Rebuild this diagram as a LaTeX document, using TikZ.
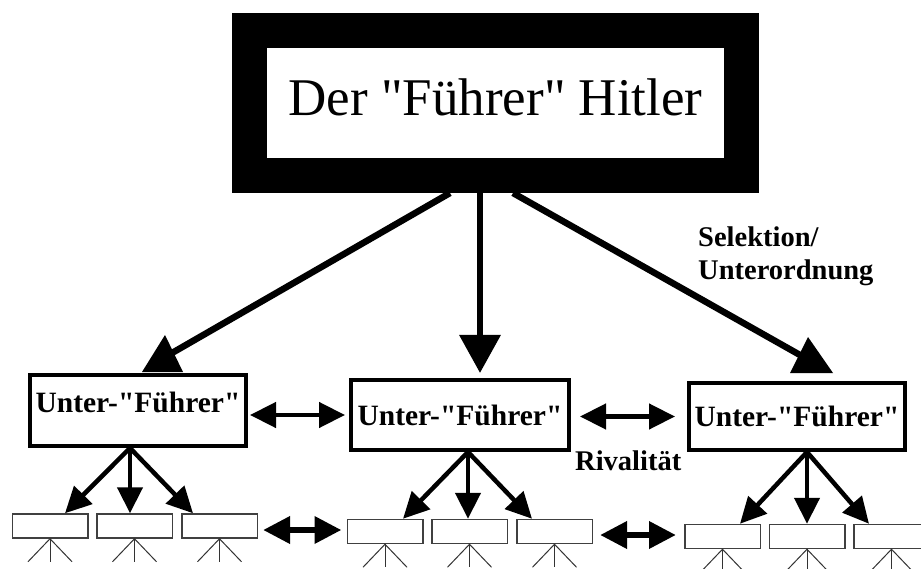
\documentclass[tikz,border=0pt]{standalone}
\usepackage{fontspec}
\setmainfont{Liberation Serif}[Ligatures=TeXOff]
\usetikzlibrary{arrows.meta,calc}
\begin{document}
\begin{tikzpicture}[x=1pt,y=-1pt,
  topbox/.style={draw, line width=35pt, minimum width=492pt, minimum height=145pt, inner sep=0pt, font=\fontsize{53}{60}\selectfont, text depth=12pt},
  subbox/.style={draw, line width=4pt, inner sep=0pt, font=\bfseries\fontsize{29.5}{32}\selectfont},
  leaf/.style={draw=black!75, line width=1.5pt, minimum width=75.5pt, minimum height=24pt, inner sep=0pt},
  lbl/.style={inner sep=0pt, font=\bfseries\fontsize{28.5}{32}\selectfont},
  mainline/.style={line width=6.5pt},
  head/.style={fill=black},
  downarrow/.style={line width=6.5pt, -{Triangle[length=38pt,width=40pt]}},
  subarrow/.style={line width=4.5pt, -{Triangle[length=26pt,width=25pt]}},
  rivarrow/.style={line width=4.5pt, {Triangle[length=26pt,width=25pt]}-{Triangle[length=26pt,width=25pt]}},
  rivarrowthick/.style={line width=6.5pt, {Triangle[length=27pt,width=26pt]}-{Triangle[length=27pt,width=26pt]}},
  twig/.style={line width=1pt, draw=black!80}
]
\clip (0,0) rectangle (921,569);
\fill[white] (0,0) rectangle (921,569);

% top box
\node[topbox] (top) at (495.5,103) {Der "Führer" Hitler};

% sub boxes
\node[subbox, minimum width=216pt, minimum height=71pt, text depth=16pt] (b1) at (138,410.5) {Unter-"Führer"};
\node[subbox, minimum width=218pt, minimum height=70pt] (b2) at (460,415) {Unter-"Führer"};
\node[subbox, minimum width=216pt, minimum height=67pt] (b3) at (797,416.5) {Unter-"Führer"};

% leaves
\node[leaf] (g1a) at (50,526) {};
\node[leaf] (g1b) at (134.5,526) {};
\node[leaf] (g1c) at (219.5,526) {};
\node[leaf] (g2a) at (385,531.5) {};
\node[leaf] (g2b) at (469.5,531.5) {};
\node[leaf] (g2c) at (554.5,531.5) {};
\node[leaf] (g3a) at (722.5,536.5) {};
\node[leaf] (g3b) at (807,536.5) {};
\node[leaf] (g3c) at (891.5,536.5) {};

% labels
\node[lbl, anchor=base west] (sel1) at (698,247) {Selektion/};
\node[lbl, anchor=base west] (sel2) at (698,280) {Unterordnung};
\node[lbl, anchor=base west] (riv) at (575,470) {Rivalität};

% main arrows
\draw[mainline] ([xshift=-45.5pt]top.south) -- ([xshift=34pt,yshift=20pt]b1.north);
\fill[head] ([xshift=4pt,yshift=1pt]b1.north) -- ([xshift=45pt,yshift=1pt]b1.north) -- ([xshift=27pt,yshift=38pt]b1.north) -- cycle;
\draw[downarrow] ([xshift=-15.5pt]top.south) -- ([xshift=20pt,yshift=5pt]b2.north);
\draw[mainline] ([xshift=17.5pt]top.south) -- ([xshift=3pt,yshift=26pt]b3.north);
\fill[head] ([xshift=-7pt,yshift=8pt]b3.north) -- ([xshift=36pt,yshift=8pt]b3.north) -- ([xshift=11pt,yshift=44pt]b3.north) -- cycle;

% rivalry arrows between sub boxes
\draw[rivarrow, shorten <=2pt, shorten >=4pt] (b1.east |- b2) -- (b2.west);
\draw[rivarrow, shorten <=9pt, shorten >=12pt] (b2.east |- b3) -- (b3.west);

% rivalry arrows between leaves
\draw[rivarrowthick, shorten <=5pt, shorten >=5pt] (g1c.east |- 0,530) -- (g2a.west |- 0,530);
\draw[rivarrowthick, shorten <=7pt, shorten >=8pt] (g2c.east |- 0,535) -- (g3a.west |- 0,535);

% sub arrows
\draw[subarrow] ([xshift=-8pt]b1.south) -- ([xshift=15pt]g1a.north);
\draw[subarrow] ([xshift=-8pt]b1.south) -- ([xshift=-4.5pt]g1b.north);
\draw[subarrow] ([xshift=-8pt]b1.south) -- ([xshift=-26.5pt]g1c.north);
\draw[subarrow] ([xshift=8pt]b2.south) -- ([xshift=18pt]g2a.north);
\draw[subarrow] ([xshift=8pt]b2.south) -- ([xshift=-1.5pt]g2b.north);
\draw[subarrow] ([xshift=8pt]b2.south) -- ([xshift=-22.5pt]g2c.north);
\draw[subarrow] ([xshift=10pt]b3.south) -- ([xshift=17.5pt]g3a.north);
\draw[subarrow] ([xshift=10pt]b3.south) -- (g3b.north);
\draw[subarrow] ([xshift=10pt]b3.south) -- ([xshift=-22.5pt]g3c.north);

% twigs under leaves
\foreach \L in {g1a,g1b,g1c,g2a,g2b,g2c,g3a,g3b,g3c}{
  \draw[twig] ([xshift=-22pt,yshift=-23pt]\L.south) -- (\L.south) -- ([xshift=22pt,yshift=-23pt]\L.south);
  \draw[twig] (\L.south) -- ([yshift=-23pt]\L.south);
}
\end{tikzpicture}
\end{document}
